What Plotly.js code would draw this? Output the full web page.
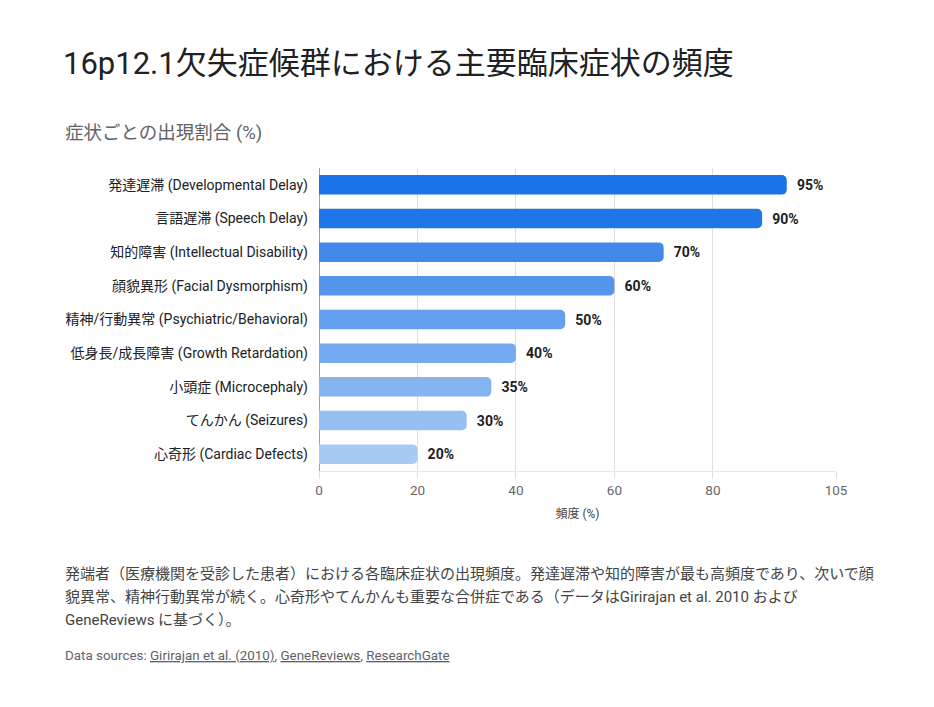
<!DOCTYPE html>
<html>
<head>
<meta charset="utf-8">
<script src="https://cdn.plot.ly/plotly-3.0.1.min.js"></script>
<style>
  body { margin: 0; background: #fff; }
  #chart { width: 934px; height: 707px; }
</style>
</head>
<body>
<div id="chart"></div>
<script>
// symptoms, top to bottom
var symptoms = [
    "発達遅滞 (Developmental Delay)",
    "言語遅滞 (Speech Delay)",
    "知的障害 (Intellectual Disability)",
    "顔貌異形 (Facial Dysmorphism)",
    "精神/行動異常 (Psychiatric/Behavioral)",
    "低身長/成長障害 (Growth Retardation)",
    "小頭症 (Microcephaly)",
    "てんかん (Seizures)",
    "心奇形 (Cardiac Defects)"
];
var frequency = [95, 90, 70, 60, 50, 40, 35, 30, 20];
var barColors = ["#1a73e8", "#1f76e8", "#428aea", "#5595ec", "#64a0ee", "#74aaef", "#85b5f1", "#96c0f3", "#a8cbf5"];
var tickVals = [0, 20, 40, 60, 80, 105];

var W = 934, H = 707;
var L = 319, R = 98, T = 168, B = 236;
var plotW = W - L - R, plotH = H - T - B;

// pixel -> paper helpers for the text around the chart
function px(x) { return (x - L) / plotW; }
function py(y) { return (H - B - y) / plotH; }

var jp = "Roboto, 'Noto Sans CJK JP', sans-serif";

var data = [{
    type: 'bar',
    orientation: 'h',
    y: symptoms,
    x: frequency,
    width: 0.58,
    marker: { color: barColors, cornerradius: 5 },
    text: frequency.map(function (v) { return "\u2002" + v + "%"; }),
    textposition: 'outside',
    textfont: { family: jp, size: 14, color: "#202124", weight: 700 },
    cliponaxis: false,
    hoverinfo: 'none'
}];

var note = "#444";

var layout = {
    width: W,
    height: H,
    margin: { l: L, r: R, t: T, b: B },
    paper_bgcolor: "#fff",
    plot_bgcolor: "#fff",
    font: { family: jp, color: "#333" },
    showlegend: false,
    title: {
        text: "16p12.1欠失症候群における主要臨床症状の頻度",
        font: { family: jp, size: 31, color: "#202124" },
        xref: 'container', yref: 'container',
        x: 63 / W, xanchor: 'left',
        y: 1 - 63 / H, yanchor: 'middle'
    },
    xaxis: {
        range: [0, 105],
        tickvals: tickVals,
        ticktext: tickVals.map(String),
        tickfont: { size: 13.5, color: "#666" },
        showgrid: true,
        gridcolor: "#dedede",
        zeroline: true,
        zerolinecolor: "#a0a0a0",
        showline: true,
        linecolor: "#e6e6e6",
        ticks: 'outside',
        ticklen: 7,
        tickcolor: "#dedede",
        fixedrange: true,
        title: { text: "頻度 (%)", font: { size: 12, color: note }, standoff: 12 }
    },
    yaxis: {
        autorange: 'reversed',
        tickfont: { size: 14, color: "#202124" },
        ticklabelstandoff: 10,
        showgrid: false,
        zeroline: false,
        fixedrange: true
    },
    annotations: [
        {
            text: "症状ごとの出現割合 (%)",
            xref: 'paper', yref: 'paper', x: px(63), y: py(133),
            xanchor: 'left', yanchor: 'middle', showarrow: false,
            font: { size: 18.5, color: "#5f6368" }
        },
        {
            text: "発端者（医療機関を受診した患者）における各臨床症状の出現頻度。発達遅滞や知的障害が最も高頻度であり、次いで顔",
            xref: 'paper', yref: 'paper', x: px(63), y: py(574),
            xanchor: 'left', yanchor: 'middle', showarrow: false,
            font: { size: 15, color: note }
        },
        {
            text: "貌異常、精神行動異常が続く。心奇形やてんかんも重要な合併症である（データはGirirajan et al. 2010 および",
            xref: 'paper', yref: 'paper', x: px(63), y: py(597),
            xanchor: 'left', yanchor: 'middle', showarrow: false,
            font: { size: 15, color: note }
        },
        {
            text: "GeneReviews に基づく）。",
            xref: 'paper', yref: 'paper', x: px(63), y: py(620),
            xanchor: 'left', yanchor: 'middle', showarrow: false,
            font: { size: 15, color: note }
        },
        {
            text: "Data sources: <span style='text-decoration:underline'>Girirajan et al. (2010)</span>, " +
                  "<span style='text-decoration:underline'>GeneReviews</span>, " +
                  "<span style='text-decoration:underline'>ResearchGate</span>",
            xref: 'paper', yref: 'paper', x: px(63), y: py(655),
            xanchor: 'left', yanchor: 'middle', showarrow: false,
            font: { size: 13.4, color: "#5f6368" }
        }
    ]
};

Plotly.newPlot(document.getElementById('chart'), data, layout, { displayModeBar: false, staticPlot: true });
</script>
</body>
</html>
